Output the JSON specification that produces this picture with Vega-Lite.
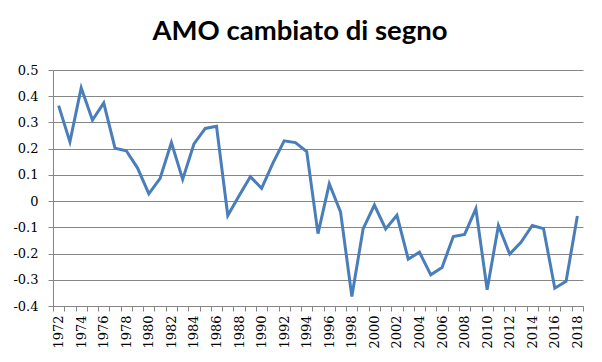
{
  "$schema": "https://vega.github.io/schema/vega-lite/v6.json",
  "width": 530,
  "height": 236,
  "autosize": {"type": "none"},
  "padding": {"left": 53, "top": 70, "right": 19, "bottom": 56},
  "background": "white",
  "title": {
    "text": "AMO cambiato di segno",
    "font": "Lato",
    "fontSize": 27.5,
    "fontWeight": "bold",
    "color": "#000000",
    "anchor": "middle",
    "frame": "group",
    "baseline": "alphabetic",
    "offset": -3,
    "dx": -18
  },
  "config": {
    "locale": {"number": {"decimal": ".", "thousands": ",", "grouping": [3], "currency": ["$", ""], "minus": "-"}},
    "view": {"stroke": null}
  },
  "data": {
    "values": [
      {"year": 1972, "amo": 0.364},
      {"year": 1973, "amo": 0.226},
      {"year": 1974, "amo": 0.432},
      {"year": 1975, "amo": 0.309},
      {"year": 1976, "amo": 0.374},
      {"year": 1977, "amo": 0.202},
      {"year": 1978, "amo": 0.192},
      {"year": 1979, "amo": 0.126},
      {"year": 1980, "amo": 0.028},
      {"year": 1981, "amo": 0.087},
      {"year": 1982, "amo": 0.223},
      {"year": 1983, "amo": 0.083},
      {"year": 1984, "amo": 0.218},
      {"year": 1985, "amo": 0.277},
      {"year": 1986, "amo": 0.285},
      {"year": 1987, "amo": -0.055},
      {"year": 1988, "amo": 0.02},
      {"year": 1989, "amo": 0.093},
      {"year": 1990, "amo": 0.049},
      {"year": 1991, "amo": 0.145},
      {"year": 1992, "amo": 0.23},
      {"year": 1993, "amo": 0.223},
      {"year": 1994, "amo": 0.189},
      {"year": 1995, "amo": -0.124},
      {"year": 1996, "amo": 0.066},
      {"year": 1997, "amo": -0.041},
      {"year": 1998, "amo": -0.364},
      {"year": 1999, "amo": -0.106},
      {"year": 2000, "amo": -0.015},
      {"year": 2001, "amo": -0.106},
      {"year": 2002, "amo": -0.054},
      {"year": 2003, "amo": -0.221},
      {"year": 2004, "amo": -0.195},
      {"year": 2005, "amo": -0.281},
      {"year": 2006, "amo": -0.253},
      {"year": 2007, "amo": -0.135},
      {"year": 2008, "amo": -0.127},
      {"year": 2009, "amo": -0.029},
      {"year": 2010, "amo": -0.338},
      {"year": 2011, "amo": -0.093},
      {"year": 2012, "amo": -0.202},
      {"year": 2013, "amo": -0.157},
      {"year": 2014, "amo": -0.093},
      {"year": 2015, "amo": -0.105},
      {"year": 2016, "amo": -0.332},
      {"year": 2017, "amo": -0.306},
      {"year": 2018, "amo": -0.057}
    ]
  },
  "mark": {"type": "line", "color": "#4A7EBB", "strokeWidth": 3, "strokeJoin": "miter"},
  "encoding": {
    "x": {
      "field": "year",
      "type": "ordinal",
      "bandPosition": 0.5,
      "scale": {"type": "band", "paddingInner": 0, "paddingOuter": 0},
      "axis": {
        "title": null,
        "tickBand": "extent",
        "labelAngle": -90,
        "labelAlign": "right",
        "labelBaseline": "middle",
        "labelPadding": 4,
        "labelFont": "DejaVu Serif",
        "labelFontSize": 13,
        "labelColor": "#000000",
        "labelOverlap": false,
        "labelExpr": "datum.value % 2 == 0 ? datum.label : ''",
        "domainColor": "#868686",
        "tickColor": "#868686",
        "tickSize": 5,
        "grid": false
      }
    },
    "y": {
      "field": "amo",
      "type": "quantitative",
      "scale": {"domain": [-0.4, 0.5], "nice": false, "zero": false},
      "axis": {
        "title": null,
        "values": [-0.4, -0.3, -0.2, -0.1, 0, 0.1, 0.2, 0.3, 0.4, 0.5],
        "format": "~g",
        "grid": true,
        "gridColor": "#868686",
        "domainColor": "#868686",
        "tickColor": "#868686",
        "tickSize": 5,
        "labelFont": "DejaVu Serif",
        "labelFontSize": 13,
        "labelColor": "#000000",
        "labelPadding": 10
      }
    }
  }
}
